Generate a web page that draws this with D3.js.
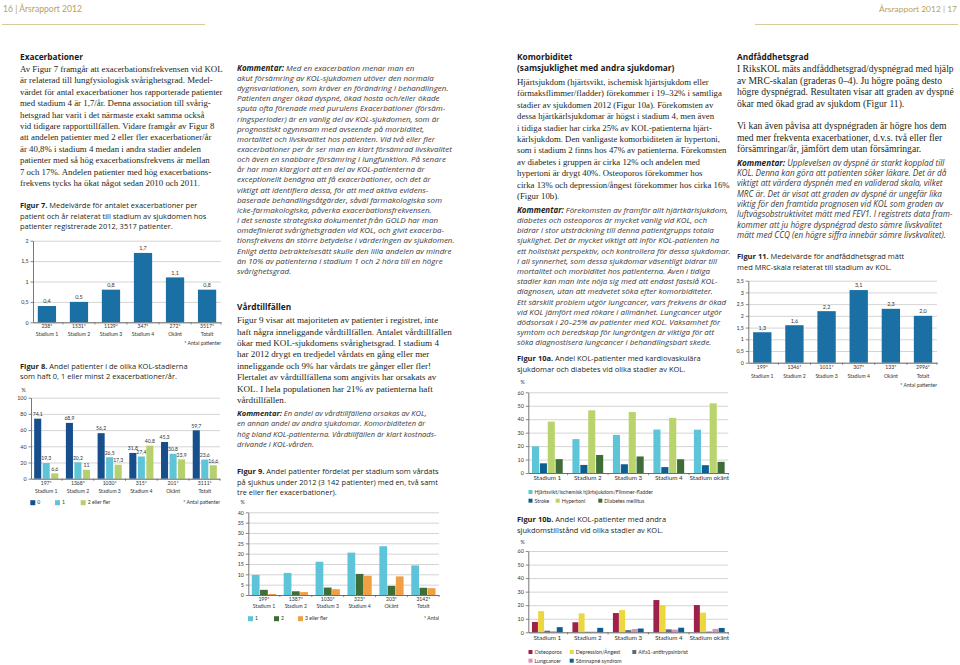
<!DOCTYPE html>
<html><head><meta charset="utf-8">
<script src="https://cdn.jsdelivr.net/npm/d3@7"></script>
<style>
html,body{margin:0;padding:0;background:#fff;}
svg{display:block;}
text{white-space:pre;}
</style></head>
<body>
<svg id="page" width="960" height="665"></svg>
<script>
// ================= DATA =================
const stages6 = ["Stadium 1","Stadium 2","Stadium 3","Stadium 4","Okänt","Totalt"];
const stages5 = ["Stadium 1","Stadium 2","Stadium 3","Stadium 4","Stadium okänt"];

// Figur 7 – medelvärde exacerbationer
const fig7Counts = ["238*","1531*","1129*","347*","272*","3517*"];
const fig7Values = [0.4,0.5,0.8,1.7,1.1,0.8];
const fig7Ticks = [0,0.5,1,1.5,2];

// Figur 8 – andel med 0, 1, 2+ exacerbationer
const fig8Counts = ["197*","1368*","1030*","315*","201*","3111*"];
const fig8Series = ["0","1","2 eller fler"];
const fig8Zero = [74.1,68.9,56.2,31.8,45.3,59.7];
const fig8One = [19.3,20.2,26.5,27.4,30.8,23.6];
const fig8TwoPlus = [6.6,11,17.3,40.8,23.9,16.6];
const fig8Ticks = [0,20,40,60,80,100];

// Figur 9 – vårdtillfällen
const fig9Counts = ["199*","1387*","1030*","323*","203*","3142*"];
const fig9Series = ["1","2","3 eller fler"];
const fig9One = [9.7,10.7,16.1,20.5,23.6,14.3];
const fig9Two = [2.5,1.8,3.6,10.2,4.4,3.5];
const fig9ThreePlus = [0.5,1.4,2.8,9.3,9.0,3.3];
const fig9Ticks = [0,5,10,15,20,25,30,35,40];

// Figur 10a – kardiovaskulära sjukdomar och diabetes
const fig10aSeries = ["Hjärtsvikt/ischemisk hjärtsjukdom/Flimmer-fladder","Stroke","Hypertoni","Diabetes mellitus"];
const fig10aHeart = [19.8,25.2,28.3,32.3,32.2];
const fig10aStroke = [7.2,6.0,6.5,4.4,5.8];
const fig10aHypertoni = [38.2,46.6,45.4,41.0,51.8];
const fig10aDiabetes = [10.3,13.4,12.3,10.2,8.3];
const fig10Ticks = [0,10,20,30,40,50,60];

// Figur 10b – andra sjukdomstillstånd
const fig10bSeries = ["Osteoporos","Depression/Ångest","Alfa1-antitrypsinbrist","Lungcancer","Sömnapné syndrom"];
const fig10bOsteo = [7.6,7.4,14.2,23.8,20.1];
const fig10bDepr = [15.6,14.0,16.4,20.0,14.5];
const fig10bAlfa = [1.2,0.4,1.6,2.2,0.5];
const fig10bLung = [0.8,0.5,2.4,2.0,2.5];
const fig10bSomn = [3.8,3.3,2.8,3.4,3.2];

// Figur 11 – andfåddhetsgrad (MRC)
const fig11Counts = ["199*","1346*","1011*","307*","133*","2996*"];
const fig11Values = [1.3,1.6,2.2,3.1,2.3,2.0];
const fig11Ticks = [0,0.5,1,1.5,2,2.5,3,3.5];

// ================= TEXT =================
const txtExac = [
"Av Figur 7 framgår att exacerbationsfrekvensen vid KOL",
"är relaterad till lungfysiologisk svårighetsgrad. Medel-",
"värdet för antal exacerbationer hos rapporterade patienter",
"med stadium 4 är 1,7/år. Denna association till svårig-",
"hetsgrad har varit i det närmaste exakt samma också",
"vid tidigare rapporttillfällen. Vidare framgår av Figur 8",
"att andelen patienter med 2 eller fler exacerbationer/år",
"är 40,8% i stadium 4 medan i andra stadier andelen",
"patienter med så hög exacerbationsfrekvens är mellan",
"7 och 17%. Andelen patienter med hög exacerbations-",
"frekvens tycks ha ökat något sedan 2010 och 2011."];

const txtKomm1 = [
[{t:"Kommentar:",b:1}," Med en exacerbation menar man en"],
"akut försämring av KOL-sjukdomen utöver den normala",
"dygnsvariationen, som kräver en förändring i behandlingen.",
"Patienten anger ökad dyspné, ökad hosta och/eller ökade",
"sputa ofta förenade med purulens Exacerbationer (försäm-",
"ringsperioder) är en vanlig del av KOL-sjukdomen, som är",
"prognostiskt ogynnsam med avseende på morbiditet,",
"mortalitet och livskvalitet hos patienten. Vid två eller fler",
"exacerbationer per år ser man en klart försämrad livskvalitet",
"och även en snabbare försämring i lungfunktion. På senare",
"år har man klargjort att en del av KOL-patienterna är",
"exceptionellt benägna att få exacerbationer, och det är",
"viktigt att identifiera dessa, för att med aktiva evidens-",
"baserade behandlingsåtgärder, såväl farmakologiska som",
"icke-farmakologiska, påverka exacerbationsfrekvensen.",
"I det senaste strategiska dokumentet från GOLD har man",
"omdefinierat svårighetsgraden vid KOL, och givit exacerba-",
"tionsfrekvens än större betydelse i värderingen av sjukdomen.",
"Enligt detta betraktelsesätt skulle den lilla andelen av mindre",
"än 10% av patienterna i stadium 1 och 2 höra till en högre",
"svårighetsgrad."];

const txtVard = [
"Figur 9 visar att majoriteten av patienter i registret, inte",
"haft några inneliggande vårdtillfällen. Antalet vårdtillfällen",
"ökar med KOL-sjukdomens svårighetsgrad. I stadium 4",
"har 2012 drygt en tredjedel vårdats en gång eller mer",
"inneliggande och 9% har vårdats tre gånger eller fler!",
"Flertalet av vårdtillfällena som angivits har orsakats av",
"KOL. I hela populationen har 21% av patienterna haft",
"vårdtillfällen."];

const txtKomm2 = [
[{t:"Kommentar:",b:1}," En andel av vårdtillfällena orsakas av KOL,"],
"en annan andel av andra sjukdomar. Komorbiditeten är",
"hög bland KOL-patienterna. Vårdtillfällen är klart kostnads-",
"drivande i KOL-vården."];

const txtKomorb = [
"Hjärtsjukdom (hjärtsvikt, ischemisk hjärtsjukdom eller",
"förmaksflimmer/fladder) förekommer i 19–32% i samtliga",
"stadier av sjukdomen 2012 (Figur 10a). Förekomsten av",
"dessa hjärtkärlsjukdomar är högst i stadium 4, men även",
"i tidiga stadier har cirka 25% av KOL-patienterna hjärt-",
"kärlsjukdom. Den vanligaste komorbiditeten är hypertoni,",
"som i stadium 2 finns hos 47% av patienterna. Förekomsten",
"av diabetes i gruppen är cirka 12% och andelen med",
"hypertoni är drygt 40%. Osteoporos förekommer hos",
"cirka 13% och depression/ångest förekommer hos cirka 16%",
"(Figur 10b)."];

const txtKomm3 = [
[{t:"Kommentar:",b:1}," Förekomsten av framför allt hjärtkärlsjukdom,"],
"diabetes och osteoporos är mycket vanlig vid KOL, och",
"bidrar i stor utsträckning till denna patientgrupps totala",
"sjuklighet. Det är mycket viktigt att inför KOL-patienten ha",
"ett holistiskt perspektiv, och kontrollera för dessa sjukdomar.",
"I all synnerhet, som dessa sjukdomar väsentligt bidrar till",
"mortalitet och morbiditet hos patienterna. Även i tidiga",
"stadier kan man inte nöja sig med att endast fastslå KOL-",
"diagnosen, utan att medvetet söka efter komorbiditeter.",
"Ett särskilt problem utgör lungcancer, vars frekvens är ökad",
"vid KOL jämfört med rökare i allmänhet. Lungcancer utgör",
"dödsorsak i 20–25% av patienter med KOL. Vaksamhet för",
"symtom och beredskap för lungröntgen är viktiga för att",
"söka diagnostisera lungcancer i behandlingsbart skede."];

const txtAndf = [
"I RiksKOL mäts andfåddhetsgrad/dyspnégrad med hjälp",
"av MRC-skalan (graderas 0–4). Ju högre poäng desto",
"högre dyspnégrad. Resultaten visar att graden av dyspné",
"ökar med ökad grad av sjukdom (Figur 11).",
"",
"Vi kan även påvisa att dyspnégraden är högre hos dem",
"med mer frekventa exacerbationer, d.v.s. två eller fler",
"försämringar/år, jämfört dem utan försämringar."];

const txtKomm4 = [
[{t:"Kommentar:",b:1}," Upplevelsen av dyspné är starkt kopplad till"],
"KOL. Denna kan göra att patienten söker läkare. Det är då",
"viktigt att värdera dyspnén med en validerad skala, vilket",
"MRC är. Det är visat att graden av dyspné är ungefär lika",
"viktig för den framtida prognosen vid KOL som graden av",
"luftvägsobstruktivitet mätt med FEV1. I registrets data fram-",
"kommer att ju högre dyspnégrad desto sämre livskvalitet",
"mätt med CCQ (en högre siffra innebär sämre livskvalitet)."];

// ================= DRAWING =================
const svg = d3.select("#page");
const SERIF = "'Liberation Serif','Times New Roman',serif";
const SANS = "'Open Sans','Noto Sans',sans-serif";
const CH = "Lato,'Open Sans',sans-serif";
const loc = d3.formatLocale({decimal:",", thousands:"\u00a0", grouping:[3], currency:["","kr"]});
const f1 = loc.format(".1f");
const f1t = loc.format(".1~f");
const fT = loc.format("~g");

function block(x, y0, lh, lines, st, fit) {
  const els = lines.map((ln, i) => {
    const te = svg.append("text").attr("x", x).attr("y", y0 + i * lh).attr("dy", "0.35em")
      .attr("font-family", st.family).attr("font-size", st.size).attr("fill", st.color || "#231f20")
      .attr("font-style", st.italic ? "italic" : null).attr("font-weight", st.weight || null);
    (Array.isArray(ln) ? ln : [ln]).forEach(s => {
      if (typeof s === "string") te.append("tspan").text(s);
      else te.append("tspan").attr("font-weight", s.b ? 700 : null).attr("fill", s.b ? "#1d1d1d" : null).text(s.t);
    });
    return te;
  });
  if (fit) {
    const m = d3.max(els, e => e.node().getComputedTextLength());
    els.forEach(e => e.attr("font-size", st.size * fit / m));
  }
  return els;
}

// ---- header ----
const gold = "#b8a15c";
svg.append("text").attr("x", 3).attr("y", 9).attr("dy", "0.35em").attr("font-family", CH).attr("font-size", 8.5)
  .attr("fill", gold).attr("textLength", 79).attr("lengthAdjust", "spacingAndGlyphs").text("16 | Årsrapport 2012");
svg.append("text").attr("x", 957).attr("y", 9).attr("dy", "0.35em").attr("text-anchor", "end").attr("font-family", CH).attr("font-size", 8.5)
  .attr("fill", gold).text("Årsrapport 2012 | 17")
  .each(function(){ const w=this.getComputedTextLength(); d3.select(this).attr("font-size", 8.5*78/w); });
svg.append("line").attr("x1", 2).attr("x2", 205).attr("y1", 24.5).attr("y2", 24.5).attr("stroke", "#d6cb9c").attr("stroke-width", 1.1);
svg.append("line").attr("x1", 755).attr("x2", 958).attr("y1", 24.5).attr("y2", 24.5).attr("stroke", "#d6cb9c").attr("stroke-width", 1.1);

// ---- headings ----
const hd = {family: SANS, size: 9, weight: 700, color: "#1a1a1a"};
const h1 = block(20, 57, 11, ["Exacerbationer"], hd)[0];
const hk = 63 / h1.node().getComputedTextLength();
hd.size = 9 * hk;
h1.attr("font-size", hd.size);
block(237, 307, 11, ["Vårdtillfällen"], hd);
block(517, 57, 11, ["Komorbiditet", "(samsjuklighet med andra sjukdomar)"], hd);
block(737, 57, 11, ["Andfåddhetsgrad"], hd);

// ---- body serif ----
const bodySt = {family: SERIF, size: 9, color: "#231f20"};
block(20, 69, 11.4, txtExac, bodySt, 203);
block(237, 320, 11.4, txtVard, bodySt, 215);
block(517, 82, 11.4, txtKomorb, bodySt, 213);
block(737, 69, 11.4, txtAndf, bodySt, 217);

// ---- kommentar ----
const komSt = {family: SANS, size: 8.5, italic: true, color: "#3a3a3a"};
block(237, 68, 10.15, txtKomm1, komSt, 218);
block(237, 413, 10.5, txtKomm2, komSt, 200);
block(517, 210, 10.2, txtKomm3, komSt, 214);
block(737, 163, 10.3, txtKomm4, komSt, 216);

// ---- captions ----
const capSt = {family: SANS, size: 8.5, color: "#231f20"};
const capRef = block(-1000, -100, 10, [[{t:"Figur 9.",b:1}," Andel patienter fördelat per stadium som vårdats"]], capSt)[0];
capSt.size = 8.5 * 202 / capRef.node().getComputedTextLength();
capRef.remove();
block(20, 205.5, 10.6, [[{t:"Figur 7.",b:1}," Medelvärde för antalet exacerbationer per"],
  "patient och år relaterat till stadium av sjukdomen hos", "patienter registrerade 2012, 3517 patienter."], capSt);
block(20, 366, 10.6, [[{t:"Figur 8.",b:1}," Andel patienter i de olika KOL-stadierna"],
  "som haft 0, 1 eller minst 2 exacerbationer/år."], capSt);
block(237, 471.5, 10.4, [[{t:"Figur 9.",b:1}," Andel patienter fördelat per stadium som vårdats"],
  "på sjukhus under 2012 (3 142 patienter) med en, två samt", "tre eller fler exacerbationer)."], capSt);
block(517, 358.5, 10.6, [[{t:"Figur 10a.",b:1}," Andel KOL-patienter med kardiovaskulära"],
  "sjukdomar och diabetes vid olika stadier av KOL."], capSt);
block(517, 519.5, 10.6, [[{t:"Figur 10b.",b:1}," Andel KOL-patienter med andra"],
  "sjukdomstillstånd vid olika stadier av KOL."], capSt);
block(737, 256.7, 10.6, [[{t:"Figur 11.",b:1}," Medelvärde för andfåddhetsgrad mätt"],
  "med MRC-skala relaterat till stadium av KOL."], capSt);

// ---- chart helper ----
function barChart(c) {
  const g = svg.append("g");
  const x = d3.scaleBand().domain(c.cats).range([c.x0, c.x1]).paddingInner(c.pi).paddingOuter(c.po);
  const y = d3.scaleLinear().domain([0, c.max]).range([c.yZero, c.yTop]);
  const xi = d3.scaleBand().domain(d3.range(c.series.length)).range([0, x.bandwidth()]).paddingInner(c.ip || 0);
  const W = c.x1 - c.x0;
  g.append("g").attr("transform", `translate(${c.x0},0)`)
    .call(d3.axisLeft(y).tickValues(c.ticks).tickSize(-W).tickFormat(""))
    .call(a => a.select(".domain").remove())
    .call(a => a.selectAll(".tick line").attr("stroke", "#c2c2c2").attr("stroke-width", 0.7));
  c.series.forEach((vals, si) => {
    g.append("g").selectAll("rect").data(vals).join("rect")
      .attr("x", (d, i) => x(c.cats[i]) + xi(si))
      .attr("width", xi.bandwidth())
      .attr("y", d => y(d)).attr("height", d => y(0) - y(d))
      .attr("fill", c.colors[si]);
    if (c.valueFmt) {
      g.append("g").selectAll("text").data(vals).join("text")
        .attr("x", (d, i) => x(c.cats[i]) + xi(si) + xi.bandwidth() / 2)
        .attr("y", d => y(d) - 4.5).attr("dy", "0.35em")
        .attr("text-anchor", "middle").attr("font-family", CH).attr("font-size", c.vSize || 5.4)
        .attr("fill", "#333").text(c.valueFmt);
    }
  });
  const ya = g.append("g").attr("transform", `translate(${c.x0},0)`)
    .call(d3.axisLeft(y).tickValues(c.ticks).tickSize(2.5).tickSizeOuter(0).tickPadding(2).tickFormat(fT));
  ya.select(".domain").attr("stroke", "#555").attr("stroke-width", 0.8);
  ya.selectAll(".tick line").attr("stroke", "#555").attr("stroke-width", 0.7);
  ya.selectAll(".tick text").attr("font-size", c.tSize || 5.3).attr("fill", "#333").attr("font-family", CH);
  const xa = g.append("g").attr("transform", `translate(0,${c.yZero})`)
    .call(d3.axisBottom(x).tickSize(0).tickSizeOuter(0).tickPadding(0).tickFormat((d, i) => c.counts ? c.counts[i] : d));
  xa.select(".domain").attr("stroke", "#555").attr("stroke-width", 0.8);
  xa.selectAll(".tick text").attr("font-family", CH).attr("font-size", c.lSize).attr("fill", "#333")
    .attr("y", c.l1).attr("dy", "0.35em")
    .each(function(d) {
      if (c.counts) d3.select(this).append("tspan").attr("x", 0).attr("dy", c.l2 - c.l1).text(d);
    });
  // small separators below the axis between categories
  const seps = c.cats.slice(1).map(d => x(d) - x.step() * x.paddingInner() / 2).concat([c.x1]);
  g.append("g").selectAll("line").data(seps).join("line")
    .attr("x1", d => d).attr("x2", d => d).attr("y1", c.yZero).attr("y2", c.yZero + 2.2)
    .attr("stroke", "#555").attr("stroke-width", 0.6);
  if (c.pct) g.append("text").attr("x", c.pct[0]).attr("y", c.pct[1]).attr("dy", "0.35em")
    .attr("font-family", CH).attr("font-size", 5.3).attr("fill", "#333").text("%");
  if (c.antal) g.append("text").attr("x", c.x1).attr("y", c.antal[1]).attr("dy", "0.35em").attr("text-anchor", "end")
    .attr("font-family", CH).attr("font-size", c.lSize).attr("fill", "#333").text(c.antal[0]);
  if (c.legend) c.legend.forEach(it => {
    g.append("rect").attr("x", it.x - (c.sq + 2)).attr("y", it.y - c.sq / 2).attr("width", c.sq).attr("height", c.sq).attr("fill", it.color);
    g.append("text").attr("x", it.x).attr("y", it.y).attr("dy", "0.35em").attr("font-family", CH)
      .attr("font-size", c.legSize || c.lSize).attr("fill", "#333").text(it.label);
  });
}

const blue = "#1a6fa5";
// Figur 7
barChart({cats: stages6, counts: fig7Counts, series: [fig7Values], colors: [blue],
  x0: 33, x1: 221, yZero: 322.3, yTop: 240.7, max: 2, ticks: fig7Ticks,
  pi: 0.43, po: 0.15, valueFmt: f1, lSize: 5.1, l1: 4.3, l2: 11.8,
  antal: ["* Antal patienter", 343.3]});

// Figur 8
const c8 = ["#164f8c", "#5ec4d8", "#b6d06c"];
barChart({cats: stages6, counts: fig8Counts, series: [fig8Zero, fig8One, fig8TwoPlus], colors: c8,
  x0: 31, x1: 220, yZero: 478.7, yTop: 397.7, max: 100, ticks: fig8Ticks,
  pi: 0.24, po: 0.1, ip: 0.17, valueFmt: f1t, vSize: 5.1, lSize: 5.1, l1: 4.5, l2: 13,
  pct: [21.5, 390], sq: 5,
  legend: [{x: 37.3, y: 502.7, color: c8[0], label: fig8Series[0]},
           {x: 62, y: 502.7, color: c8[1], label: fig8Series[1]},
           {x: 87.7, y: 502.7, color: c8[2], label: fig8Series[2]}],
  antal: ["* Antal patienter", 502.7]});

// Figur 9
const c9 = ["#5ec4d8", "#3e6d37", "#f19f45"];
barChart({cats: stages6, counts: fig9Counts, series: [fig9One, fig9Two, fig9ThreePlus], colors: c9,
  x0: 248.3, x1: 439, yZero: 595, yTop: 512.3, max: 40, ticks: fig9Ticks,
  pi: 0.24, po: 0.11, ip: 0.06, lSize: 5.1, l1: 4.3, l2: 11.5,
  pct: [240.5, 501.7], sq: 5,
  legend: [{x: 255, y: 618.7, color: c9[0], label: fig9Series[0]},
           {x: 281, y: 618.7, color: c9[1], label: fig9Series[1]},
           {x: 305, y: 618.7, color: c9[2], label: fig9Series[2]}],
  antal: ["* Antal", 618.7]});

// Figur 10a
const c10a = ["#5ec4d8", "#0f5e92", "#b9d46c", "#3e6d37"];
barChart({cats: stages5, series: [fig10aHeart, fig10aStroke, fig10aHypertoni, fig10aDiabetes], colors: c10a,
  x0: 528.3, x1: 728.3, yZero: 473, yTop: 392.3, max: 60, ticks: fig10Ticks,
  pi: 0.24, po: 0.09, ip: 0.1, lSize: 6.3, l1: 5, legSize: 5.3, tSize: 5.4,
  pct: [520.5, 382.3], sq: 4,
  legend: [{x: 534.5, y: 492, color: c10a[0], label: fig10aSeries[0]},
           {x: 534.5, y: 500.7, color: c10a[1], label: fig10aSeries[1]},
           {x: 561.7, y: 500.7, color: c10a[2], label: fig10aSeries[2]},
           {x: 604.3, y: 500.7, color: c10a[3], label: fig10aSeries[3]}]});

// Figur 10b
const c10b = ["#9d2148", "#ecd73f", "#5c6a7e", "#de8fb6", "#0f5e92"];
barChart({cats: stages5, series: [fig10bOsteo, fig10bDepr, fig10bAlfa, fig10bLung, fig10bSomn], colors: c10b,
  x0: 528.3, x1: 728.3, yZero: 632.3, yTop: 551, max: 60, ticks: fig10Ticks,
  pi: 0.24, po: 0.09, ip: 0.04, lSize: 6.3, l1: 5, legSize: 5.3, tSize: 5.4,
  pct: [520.5, 541.7], sq: 4,
  legend: [{x: 534.5, y: 652, color: c10b[0], label: fig10bSeries[0]},
           {x: 575.7, y: 652, color: c10b[1], label: fig10bSeries[1]},
           {x: 638.3, y: 652, color: c10b[2], label: fig10bSeries[2]},
           {x: 534.5, y: 660.7, color: c10b[3], label: fig10bSeries[3]},
           {x: 575.7, y: 660.7, color: c10b[4], label: fig10bSeries[4]}]});

// Figur 11
barChart({cats: stages6, counts: fig11Counts, series: [fig11Values], colors: [blue],
  x0: 748.3, x1: 937, yZero: 362.7, yTop: 280.7, max: 3.5, ticks: fig11Ticks,
  pi: 0.43, po: 0.15, valueFmt: f1, lSize: 5.1, l1: 4.6, l2: 14,
  antal: ["* Antal patienter", 385.3]});
</script>
</body></html>
